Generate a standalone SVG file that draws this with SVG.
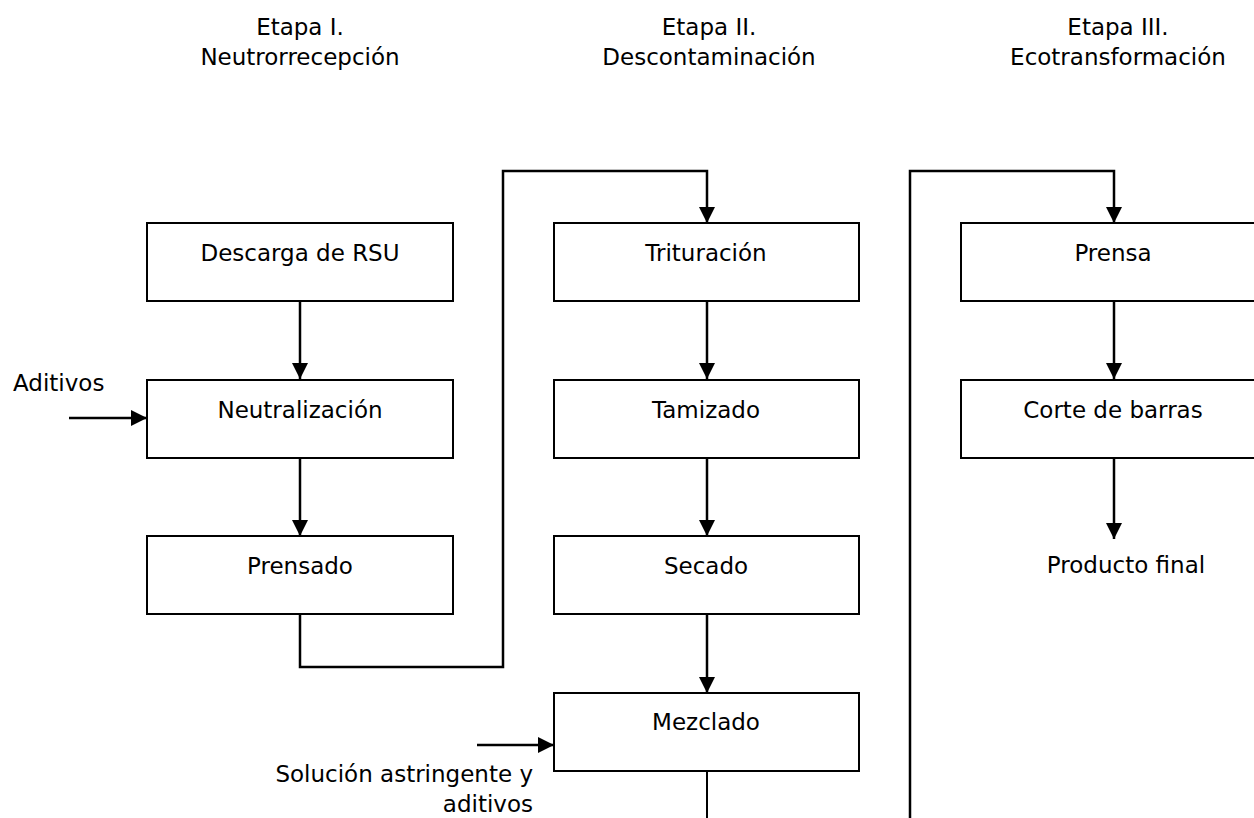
<svg xmlns="http://www.w3.org/2000/svg" width="1254" height="818" viewBox="0 0 1254 818">
<style>
text{font-family:"DejaVu Sans","Liberation Sans",sans-serif;font-size:23px;fill:#000}
.c{text-anchor:middle}
.r{text-anchor:end}
rect{fill:#fff;stroke:#000;stroke-width:2}
.ln{fill:none;stroke:#000;stroke-width:2.5}
</style>
<defs>
<marker id="ah" markerUnits="userSpaceOnUse" markerWidth="17" markerHeight="17" refX="16" refY="8" orient="auto" overflow="visible">
<path d="M0,0 L16,8 L0,16 z" fill="#000"/>
</marker>
</defs>
<rect x="0" y="0" width="1254" height="818" style="stroke:none;fill:#fff"/>
<g id="headers">
<text class="c" x="300" y="35">Etapa I.</text>
<text class="c" x="300" y="65">Neutrorrecepción</text>
<text class="c" x="709" y="35">Etapa II.</text>
<text class="c" x="709" y="65">Descontaminación</text>
<text class="c" x="1118" y="35">Etapa III.</text>
<text class="c" x="1118" y="65">Ecotransformación</text>
</g>
<g id="connectors">
<path class="ln" d="M300,301 V379" marker-end="url(#ah)"/>
<path class="ln" d="M300,458 V536" marker-end="url(#ah)"/>
<path class="ln" d="M69,418 H147" marker-end="url(#ah)"/>
<path class="ln" d="M300,614 V667 H503 V171 H707 V223" marker-end="url(#ah)"/>
<path class="ln" d="M707,301 V379" marker-end="url(#ah)"/>
<path class="ln" d="M707,458 V536" marker-end="url(#ah)"/>
<path class="ln" d="M707,614 V693" marker-end="url(#ah)"/>
<path class="ln" d="M477,745 H554" marker-end="url(#ah)"/>
<path class="ln" d="M707,771 V818" style="stroke-width:2"/>
<path class="ln" d="M910,818 V171 H1114 V223" marker-end="url(#ah)"/>
<path class="ln" d="M1114,301 V379" marker-end="url(#ah)"/>
<path class="ln" d="M1114,458 V539" marker-end="url(#ah)"/>
</g>
<g id="n-descarga"><rect x="147" y="223" width="306" height="78"/><text class="c" x="300" y="261">Descarga de RSU</text></g>
<g id="n-neutralizacion"><rect x="147" y="380" width="306" height="78"/><text class="c" x="300" y="418">Neutralización</text></g>
<g id="n-prensado"><rect x="147" y="536" width="306" height="78"/><text class="c" x="300" y="574">Prensado</text></g>
<g id="n-trituracion"><rect x="554" y="223" width="305" height="78"/><text class="c" x="706" y="261">Trituración</text></g>
<g id="n-tamizado"><rect x="554" y="380" width="305" height="78"/><text class="c" x="706" y="418">Tamizado</text></g>
<g id="n-secado"><rect x="554" y="536" width="305" height="78"/><text class="c" x="706" y="574">Secado</text></g>
<g id="n-mezclado"><rect x="554" y="693" width="305" height="78"/><text class="c" x="706" y="730">Mezclado</text></g>
<g id="n-prensa"><rect x="961" y="223" width="306" height="78"/><text class="c" x="1113" y="261">Prensa</text></g>
<g id="n-corte"><rect x="961" y="380" width="306" height="78"/><text class="c" x="1113" y="418">Corte de barras</text></g>
<g id="labels">
<text x="13" y="391">Aditivos</text>
<text class="r" x="533" y="782">Solución astringente y</text>
<text class="r" x="533" y="812">aditivos</text>
<text class="c" x="1126" y="573">Producto final</text>
</g>
</svg>
